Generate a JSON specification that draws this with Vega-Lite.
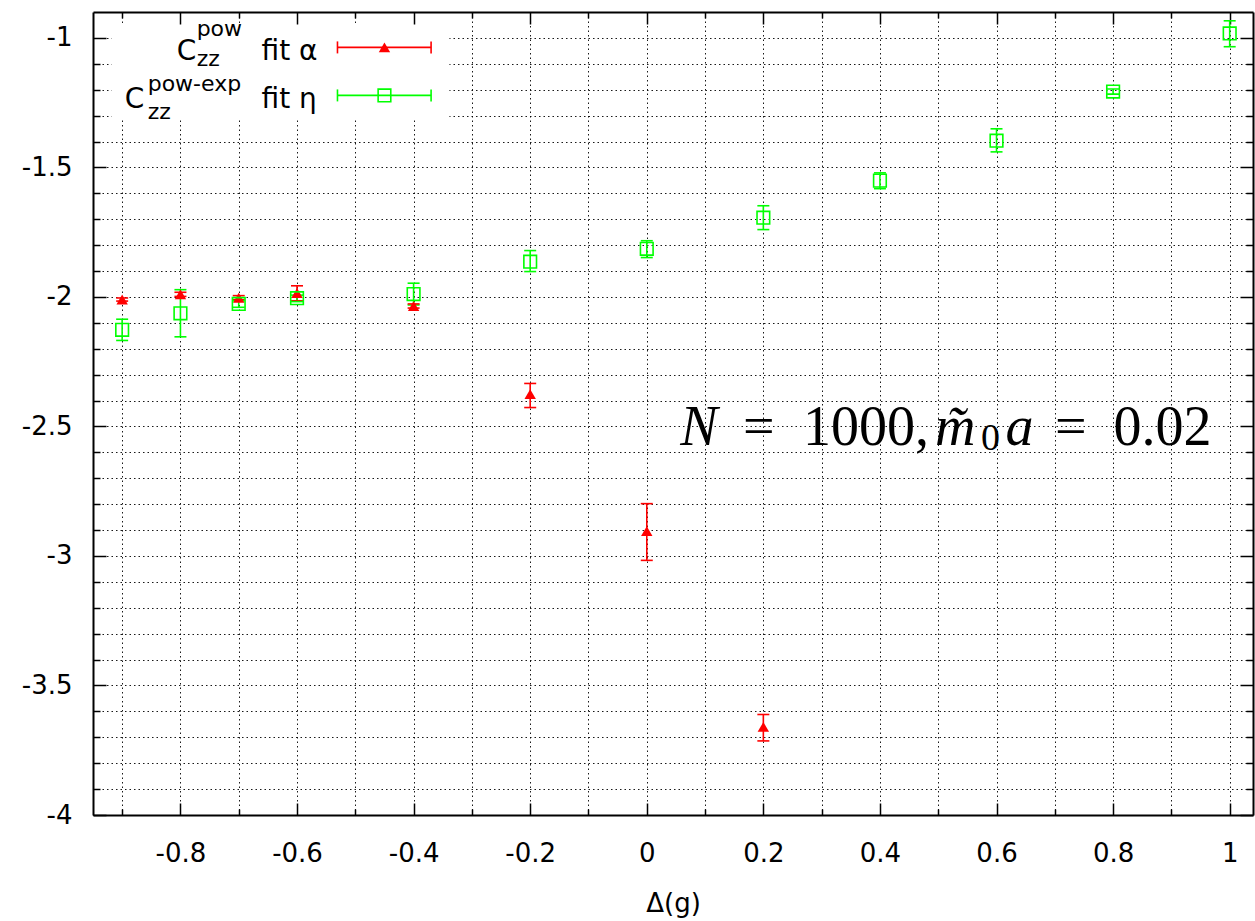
{
  "$schema": "https://vega.github.io/schema/vega-lite/v6.json",
  "width": 1160,
  "height": 803,
  "autosize": {"type": "none"},
  "padding": {"left": 93, "top": 12, "right": 2, "bottom": 106},
  "background": "white",
  "config": {"view": {"stroke": null}, "font": "DejaVu Sans"},
  "datasets": {
    "pts": [
      {"series": "pow", "x": -0.9, "y": -2.01, "lo": -2.016, "hi": -2.004},
      {"series": "pow", "x": -0.8, "y": -1.99, "lo": -1.998, "hi": -1.982},
      {"series": "pow", "x": -0.7, "y": -2.003, "lo": -2.011, "hi": -1.995},
      {"series": "pow", "x": -0.6, "y": -1.985, "lo": -2.015, "hi": -1.957},
      {"series": "pow", "x": -0.4, "y": -2.035, "lo": -2.043, "hi": -2.027},
      {"series": "pow", "x": -0.2, "y": -2.375, "lo": -2.427, "hi": -2.334},
      {"series": "pow", "x": 0, "y": -2.904, "lo": -3.017, "hi": -2.798},
      {"series": "pow", "x": 0.2, "y": -3.66, "lo": -3.714, "hi": -3.612},
      {"series": "powexp", "x": -0.9, "y": -2.127, "lo": -2.168, "hi": -2.086},
      {"series": "powexp", "x": -0.8, "y": -2.063, "lo": -2.154, "hi": -1.972},
      {"series": "powexp", "x": -0.7, "y": -2.027, "lo": -2.04, "hi": -2.015},
      {"series": "powexp", "x": -0.6, "y": -2.005, "lo": -2.018, "hi": -1.993},
      {"series": "powexp", "x": -0.4, "y": -1.989, "lo": -2.031, "hi": -1.947},
      {"series": "powexp", "x": -0.2, "y": -1.864, "lo": -1.902, "hi": -1.821},
      {"series": "powexp", "x": 0, "y": -1.814, "lo": -1.848, "hi": -1.783},
      {"series": "powexp", "x": 0.2, "y": -1.694, "lo": -1.74, "hi": -1.648},
      {"series": "powexp", "x": 0.4, "y": -1.551, "lo": -1.582, "hi": -1.521},
      {"series": "powexp", "x": 0.6, "y": -1.397, "lo": -1.44, "hi": -1.351},
      {"series": "powexp", "x": 0.8, "y": -1.207, "lo": -1.217, "hi": -1.197},
      {"series": "powexp", "x": 1.0, "y": -0.983, "lo": -1.034, "hi": -0.934}
    ],
    "box": [{"x1": -0.918, "x2": -0.3386, "y1": -0.9529, "y2": -1.3158}],
    "leg": [
      {"series": "pow", "x1": -0.5306, "x2": -0.37, "xm": -0.45, "y": -1.0367},
      {"series": "powexp", "x1": -0.5306, "x2": -0.37, "xm": -0.45, "y": -1.222}
    ],
    "legtext": [
      {"role": "main", "t": "C", "x": -0.8065, "y": -1.0842},
      {"role": "main", "t": "fit α", "x": -0.6608, "y": -1.0842},
      {"role": "main", "t": "C", "x": -0.8957, "y": -1.2695},
      {"role": "main", "t": "fit η", "x": -0.6608, "y": -1.2695},
      {"role": "script", "t": "pow", "x": -0.7722, "y": -0.9915},
      {"role": "script", "t": "zz", "x": -0.7722, "y": -1.1073},
      {"role": "script", "t": "pow-exp", "x": -0.8562, "y": -1.2039},
      {"role": "script", "t": "zz", "x": -0.8562, "y": -1.312}
    ],
    "note": [
      {"role": "italic", "t": "N", "x": 0.0574, "y": -2.5707},
      {"role": "roman", "t": "=", "x": 0.165, "y": -2.5707},
      {"role": "roman", "t": "1000,", "x": 0.268, "y": -2.5707},
      {"role": "italic", "t": "m̃", "x": 0.4943, "y": -2.5707},
      {"role": "sub", "t": "0", "x": 0.5733, "y": -2.59},
      {"role": "italic", "t": "a", "x": 0.6153, "y": -2.5707},
      {"role": "roman", "t": "=", "x": 0.7002, "y": -2.5707},
      {"role": "roman", "t": "0.02", "x": 0.8006, "y": -2.5707}
    ]
  },
  "resolve": {"axis": {"x": "independent", "y": "independent"}},
  "layer": [
    {
      "data": {"name": "box"},
      "mark": {"type": "rect", "fill": "white", "stroke": null},
      "encoding": {
        "x": {
          "field": "x1", "type": "quantitative",
          "scale": {"domain": [-0.95, 1.04], "nice": false, "zero": false},
          "axis": {
            "orient": "bottom",
            "values": [-0.9, -0.8, -0.7, -0.6, -0.5, -0.4, -0.3, -0.2, -0.1, 0, 0.1, 0.2, 0.3, 0.4, 0.5, 0.6, 0.7, 0.8, 0.9, 1],
            "labelExpr": "abs(datum.value*5 - round(datum.value*5)) < 0.001 ? '' + datum.value : ''",
            "tickSize": {"condition": {"test": "abs(datum.value*5 - round(datum.value*5)) < 0.001", "value": -12}, "value": -6},
            "labelPadding": 37,
            "labelOverlap": false,
            "labelFlush": false,
            "grid": true, "gridDash": [1.5, 3], "gridColor": "#000000", "gridWidth": 1, "gridOpacity": 0.9,
            "domainColor": "#000000", "domainWidth": 2, "tickColor": "#000000", "tickWidth": 1.5,
            "labelFont": "DejaVu Sans", "labelFontSize": 26, "labelColor": "#000000",
            "title": "Δ(g)", "titleFont": "DejaVu Sans", "titleFontSize": 26, "titleFontWeight": "normal",
            "titleColor": "#000000", "titleY": 96, "titleBaseline": "alphabetic"
          }
        },
        "x2": {"field": "x2"},
        "y": {
          "field": "y1", "type": "quantitative",
          "scale": {"domain": [-4, -0.9], "nice": false, "zero": false},
          "axis": {
            "orient": "left",
            "values": [-4, -3.9, -3.8, -3.7, -3.6, -3.5, -3.4, -3.3, -3.2, -3.1, -3, -2.9, -2.8, -2.7, -2.6, -2.5, -2.4, -2.3, -2.2, -2.1, -2, -1.9, -1.8, -1.7, -1.6, -1.5, -1.4, -1.3, -1.2, -1.1, -1],
            "labelExpr": "abs(datum.value*2 - round(datum.value*2)) < 0.001 ? '' + datum.value : ''",
            "tickSize": {"condition": {"test": "abs(datum.value*2 - round(datum.value*2)) < 0.001", "value": -13}, "value": -7},
            "labelPadding": 34,
            "labelOverlap": false,
            "labelFlush": false,
            "grid": true, "gridDash": [1.5, 3], "gridColor": "#000000", "gridWidth": 1, "gridOpacity": 0.9,
            "domainColor": "#000000", "domainWidth": 2, "tickColor": "#000000", "tickWidth": 1.5,
            "labelFont": "DejaVu Sans", "labelFontSize": 26, "labelColor": "#000000",
            "title": null
          }
        },
        "y2": {"field": "y2"}
      }
    },
    {
      "data": {"name": "pts"},
      "mark": {"type": "rule", "strokeWidth": 1.6},
      "encoding": {
        "x": {
          "field": "x", "type": "quantitative",
          "scale": {"domain": [-0.95, 1.04], "nice": false, "zero": false},
          "axis": {
            "orient": "top",
            "values": [-0.9, -0.8, -0.7, -0.6, -0.5, -0.4, -0.3, -0.2, -0.1, 0, 0.1, 0.2, 0.3, 0.4, 0.5, 0.6, 0.7, 0.8, 0.9, 1],
            "labels": false, "grid": false, "title": null,
            "tickSize": {"condition": {"test": "abs(datum.value*5 - round(datum.value*5)) < 0.001", "value": -12}, "value": -6},
            "domainColor": "#000000", "domainWidth": 2, "tickColor": "#000000", "tickWidth": 1.5
          }
        },
        "y": {
          "field": "lo", "type": "quantitative",
          "scale": {"domain": [-4, -0.9], "nice": false, "zero": false},
          "axis": {
            "orient": "right",
            "values": [-4, -3.9, -3.8, -3.7, -3.6, -3.5, -3.4, -3.3, -3.2, -3.1, -3, -2.9, -2.8, -2.7, -2.6, -2.5, -2.4, -2.3, -2.2, -2.1, -2, -1.9, -1.8, -1.7, -1.6, -1.5, -1.4, -1.3, -1.2, -1.1, -1],
            "labels": false, "grid": false, "title": null,
            "tickSize": {"condition": {"test": "abs(datum.value*2 - round(datum.value*2)) < 0.001", "value": -13}, "value": -7},
            "domainColor": "#000000", "domainWidth": 2, "tickColor": "#000000", "tickWidth": 1.5
          }
        },
        "y2": {"field": "hi"},
        "color": {"field": "series", "type": "nominal", "scale": {"domain": ["pow", "powexp"], "range": ["#ff0000", "#00ff00"]}, "legend": null}
      }
    },
    {
      "data": {"name": "pts"},
      "mark": {"type": "tick", "orient": "horizontal", "size": 12, "thickness": 1.6, "opacity": 1},
      "encoding": {
        "x": {"field": "x", "type": "quantitative", "scale": {"domain": [-0.95, 1.04], "nice": false, "zero": false}, "axis": null},
        "y": {"field": "lo", "type": "quantitative", "scale": {"domain": [-4, -0.9], "nice": false, "zero": false}, "axis": null},
        "color": {"field": "series", "type": "nominal", "scale": {"domain": ["pow", "powexp"], "range": ["#ff0000", "#00ff00"]}, "legend": null}
      }
    },
    {
      "data": {"name": "pts"},
      "mark": {"type": "tick", "orient": "horizontal", "size": 12, "thickness": 1.6, "opacity": 1},
      "encoding": {
        "x": {"field": "x", "type": "quantitative", "scale": {"domain": [-0.95, 1.04], "nice": false, "zero": false}, "axis": null},
        "y": {"field": "hi", "type": "quantitative", "scale": {"domain": [-4, -0.9], "nice": false, "zero": false}, "axis": null},
        "color": {"field": "series", "type": "nominal", "scale": {"domain": ["pow", "powexp"], "range": ["#ff0000", "#00ff00"]}, "legend": null}
      }
    },
    {
      "data": {"name": "pts"},
      "transform": [{"filter": "datum.series == 'pow'"}],
      "mark": {"type": "point", "shape": "triangle-up", "filled": true, "color": "#ff0000", "size": 130, "opacity": 1},
      "encoding": {
        "x": {"field": "x", "type": "quantitative", "scale": {"domain": [-0.95, 1.04], "nice": false, "zero": false}, "axis": null},
        "y": {"field": "y", "type": "quantitative", "scale": {"domain": [-4, -0.9], "nice": false, "zero": false}, "axis": null}
      }
    },
    {
      "data": {"name": "pts"},
      "transform": [{"filter": "datum.series == 'powexp'"}],
      "mark": {"type": "point", "shape": "square", "filled": false, "color": "#00ff00", "size": 160, "strokeWidth": 1.6, "opacity": 1},
      "encoding": {
        "x": {"field": "x", "type": "quantitative", "scale": {"domain": [-0.95, 1.04], "nice": false, "zero": false}, "axis": null},
        "y": {"field": "y", "type": "quantitative", "scale": {"domain": [-4, -0.9], "nice": false, "zero": false}, "axis": null}
      }
    },
    {
      "data": {"name": "leg"},
      "mark": {"type": "rule", "strokeWidth": 1.6},
      "encoding": {
        "x": {"field": "x1", "type": "quantitative", "scale": {"domain": [-0.95, 1.04], "nice": false, "zero": false}, "axis": null},
        "x2": {"field": "x2"},
        "y": {"field": "y", "type": "quantitative", "scale": {"domain": [-4, -0.9], "nice": false, "zero": false}, "axis": null},
        "color": {"field": "series", "type": "nominal", "scale": {"domain": ["pow", "powexp"], "range": ["#ff0000", "#00ff00"]}, "legend": null}
      }
    },
    {
      "data": {"name": "leg"},
      "mark": {"type": "tick", "orient": "vertical", "size": 12, "thickness": 1.6, "opacity": 1},
      "encoding": {
        "x": {"field": "x1", "type": "quantitative", "scale": {"domain": [-0.95, 1.04], "nice": false, "zero": false}, "axis": null},
        "y": {"field": "y", "type": "quantitative", "scale": {"domain": [-4, -0.9], "nice": false, "zero": false}, "axis": null},
        "color": {"field": "series", "type": "nominal", "scale": {"domain": ["pow", "powexp"], "range": ["#ff0000", "#00ff00"]}, "legend": null}
      }
    },
    {
      "data": {"name": "leg"},
      "mark": {"type": "tick", "orient": "vertical", "size": 12, "thickness": 1.6, "opacity": 1},
      "encoding": {
        "x": {"field": "x2", "type": "quantitative", "scale": {"domain": [-0.95, 1.04], "nice": false, "zero": false}, "axis": null},
        "y": {"field": "y", "type": "quantitative", "scale": {"domain": [-4, -0.9], "nice": false, "zero": false}, "axis": null},
        "color": {"field": "series", "type": "nominal", "scale": {"domain": ["pow", "powexp"], "range": ["#ff0000", "#00ff00"]}, "legend": null}
      }
    },
    {
      "data": {"name": "leg"},
      "transform": [{"filter": "datum.series == 'pow'"}],
      "mark": {"type": "point", "shape": "triangle-up", "filled": true, "color": "#ff0000", "size": 130, "opacity": 1},
      "encoding": {
        "x": {"field": "xm", "type": "quantitative", "scale": {"domain": [-0.95, 1.04], "nice": false, "zero": false}, "axis": null},
        "y": {"field": "y", "type": "quantitative", "scale": {"domain": [-4, -0.9], "nice": false, "zero": false}, "axis": null}
      }
    },
    {
      "data": {"name": "leg"},
      "transform": [{"filter": "datum.series == 'powexp'"}],
      "mark": {"type": "point", "shape": "square", "filled": false, "color": "#00ff00", "size": 160, "strokeWidth": 1.6, "opacity": 1},
      "encoding": {
        "x": {"field": "xm", "type": "quantitative", "scale": {"domain": [-0.95, 1.04], "nice": false, "zero": false}, "axis": null},
        "y": {"field": "y", "type": "quantitative", "scale": {"domain": [-4, -0.9], "nice": false, "zero": false}, "axis": null}
      }
    },
    {
      "data": {"name": "legtext"},
      "transform": [{"filter": "datum.role == 'main'"}],
      "mark": {"type": "text", "align": "left", "baseline": "alphabetic", "font": "DejaVu Sans", "fontSize": 28, "color": "#000000"},
      "encoding": {
        "x": {"field": "x", "type": "quantitative", "scale": {"domain": [-0.95, 1.04], "nice": false, "zero": false}, "axis": null},
        "y": {"field": "y", "type": "quantitative", "scale": {"domain": [-4, -0.9], "nice": false, "zero": false}, "axis": null},
        "text": {"field": "t"}
      }
    },
    {
      "data": {"name": "legtext"},
      "transform": [{"filter": "datum.role == 'script'"}],
      "mark": {"type": "text", "align": "left", "baseline": "alphabetic", "font": "DejaVu Sans", "fontSize": 22, "color": "#000000"},
      "encoding": {
        "x": {"field": "x", "type": "quantitative", "scale": {"domain": [-0.95, 1.04], "nice": false, "zero": false}, "axis": null},
        "y": {"field": "y", "type": "quantitative", "scale": {"domain": [-4, -0.9], "nice": false, "zero": false}, "axis": null},
        "text": {"field": "t"}
      }
    },
    {
      "data": {"name": "note"},
      "transform": [{"filter": "datum.role == 'italic'"}],
      "mark": {"type": "text", "align": "left", "baseline": "alphabetic", "font": "Liberation Serif", "fontStyle": "italic", "fontSize": 56, "color": "#000000"},
      "encoding": {
        "x": {"field": "x", "type": "quantitative", "scale": {"domain": [-0.95, 1.04], "nice": false, "zero": false}, "axis": null},
        "y": {"field": "y", "type": "quantitative", "scale": {"domain": [-4, -0.9], "nice": false, "zero": false}, "axis": null},
        "text": {"field": "t"}
      }
    },
    {
      "data": {"name": "note"},
      "transform": [{"filter": "datum.role == 'roman'"}],
      "mark": {"type": "text", "align": "left", "baseline": "alphabetic", "font": "Liberation Serif", "fontSize": 56, "color": "#000000"},
      "encoding": {
        "x": {"field": "x", "type": "quantitative", "scale": {"domain": [-0.95, 1.04], "nice": false, "zero": false}, "axis": null},
        "y": {"field": "y", "type": "quantitative", "scale": {"domain": [-4, -0.9], "nice": false, "zero": false}, "axis": null},
        "text": {"field": "t"}
      }
    },
    {
      "data": {"name": "note"},
      "transform": [{"filter": "datum.role == 'sub'"}],
      "mark": {"type": "text", "align": "left", "baseline": "alphabetic", "font": "Liberation Serif", "fontSize": 38, "color": "#000000"},
      "encoding": {
        "x": {"field": "x", "type": "quantitative", "scale": {"domain": [-0.95, 1.04], "nice": false, "zero": false}, "axis": null},
        "y": {"field": "y", "type": "quantitative", "scale": {"domain": [-4, -0.9], "nice": false, "zero": false}, "axis": null},
        "text": {"field": "t"}
      }
    }
  ]
}
